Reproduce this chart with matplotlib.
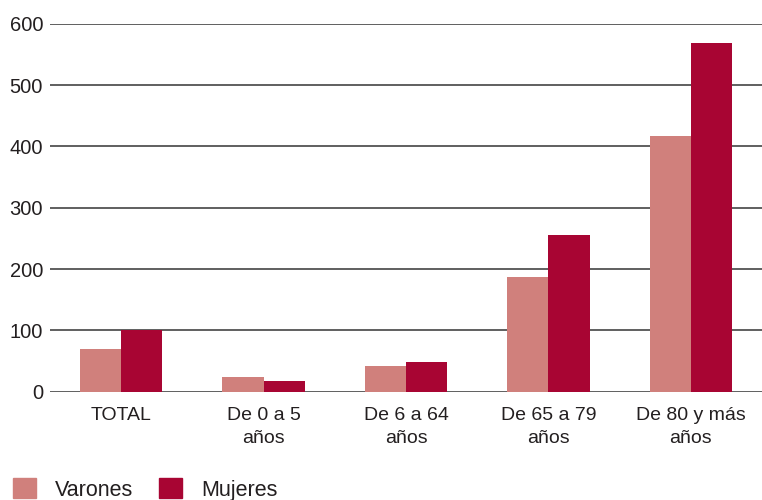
import matplotlib.pyplot as plt
import matplotlib.patches as mpatches
import numpy as np

categories = ['TOTAL', 'De 0 a 5\naños', 'De 6 a 64\naños', 'De 65 a 79\naños', 'De 80 y más\naños']
varones = [70, 24, 42, 187, 417]
mujeres = [100, 17, 48, 255, 568]
yticks = [0, 100, 200, 300, 400, 500, 600]

col_var = '#d0807c'
col_muj = '#a80533'
txt = '#231f20'

plt.rcParams['font.family'] = ['Liberation Sans', 'DejaVu Sans']

fig = plt.figure(figsize=(7.62, 5), dpi=100)
ax = fig.add_axes([0.0656, 0.2166, 0.9344, 0.736])

x = np.arange(len(categories))
w = 0.29
ax.bar(x - w / 2, varones, w, color=col_var, zorder=3)
ax.bar(x + w / 2, mujeres, w, color=col_muj, zorder=3)

ax.set_xlim(-0.5, len(categories) - 0.5)
ax.set_ylim(0, 600)
ax.set_yticks(yticks)
ax.set_yticklabels([str(t) for t in yticks])
ax.yaxis.grid(True, color='#444444', linewidth=1.2, zorder=1)
ax.set_axisbelow(True)
for s in ax.spines.values():
    s.set_visible(False)

ax.set_xticks(x)
ax.set_xticklabels(categories, linespacing=1.45)
ax.tick_params(axis='x', length=0, pad=11, labelsize=14, labelcolor=txt)
ax.tick_params(axis='y', length=0, pad=5, labelsize=14.5, labelcolor=txt)

handles = [mpatches.Patch(color=col_var, label='Varones'),
           mpatches.Patch(color=col_muj, label='Mujeres')]
fig.legend(handles=handles, loc='lower left', bbox_to_anchor=(-0.008, -0.04),
           ncol=2, frameon=False, fontsize=15.5, handlelength=1.05, handleheight=1.05,
           handletextpad=0.9, columnspacing=1.2, labelcolor=txt)

fig.savefig('out.png', dpi=100)
